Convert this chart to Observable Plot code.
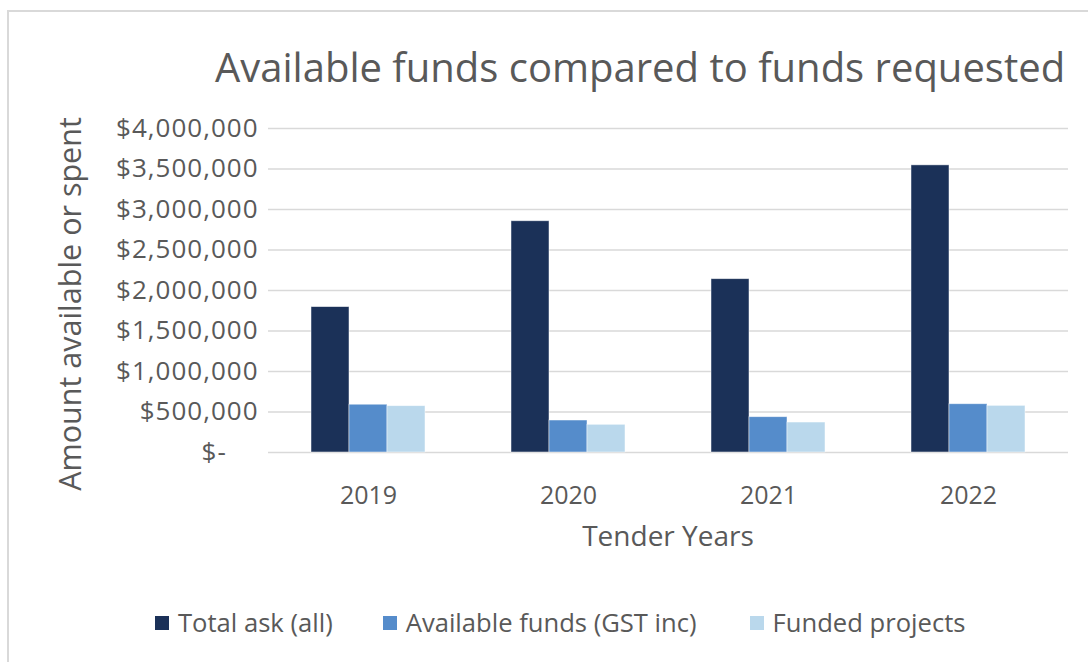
<!DOCTYPE html>
<html>
<head>
<meta charset="utf-8">
<script src="https://cdn.jsdelivr.net/npm/d3@7"></script>
<script src="https://cdn.jsdelivr.net/npm/@observablehq/plot@0.6"></script>
<style>
  html, body { margin: 0; padding: 0; background: #fff; }
  body { width: 1088px; height: 662px; position: relative; overflow: hidden; font-family: "Open Sans", "Noto Sans", sans-serif; color: #595959; }
  #frame { position: absolute; left: 7px; top: 10px; width: 1200px; height: 800px; border-left: 2px solid #d9d9d9; border-top: 2px solid #d9d9d9; }
  #title { position: absolute; left: 215px; top: 47px; font-size: 40px; line-height: 1; white-space: nowrap; letter-spacing: 0px; }
  #ylabel { position: absolute; left: 69px; top: 304px; font-size: 30.5px; white-space: nowrap; transform: translate(-50%, -50%) rotate(-90deg); }
  #xlabel { position: absolute; left: 668px; top: 521px; font-size: 28px; line-height: 1; white-space: nowrap; transform: translateX(-50%); }
  #chart { position: absolute; left: 0; top: 100px; }
  #chart g[aria-label^="y-axis"] text { font-size: 26px; letter-spacing: 1px; }
  #legend { position: absolute; left: 155px; top: 605px; display: flex; align-items: center; font-size: 25.6px; white-space: nowrap; }
  .item { display: flex; align-items: center; }
  .sw { width: 14px; height: 14px; margin-right: 9px; }
</style>
</head>
<body>
<div id="frame"></div>
<div id="title">Available funds compared to funds requested</div>
<div id="ylabel">Amount available or spent</div>
<div id="chart"></div>
<div id="xlabel">Tender Years</div>
<div id="legend"></div>
<script>
const years = ["2019", "2020", "2021", "2022"];
const series = ["Total ask (all)", "Available funds (GST inc)", "Funded projects"];
const totalAsk = [1795000, 2855000, 2140000, 3545000];
const availableFunds = [590000, 395000, 436000, 596000];
const fundedProjects = [572000, 342000, 370000, 576000];
const yTicks = [0, 500000, 1000000, 1500000, 2000000, 2500000, 3000000, 3500000, 4000000];
const colors = ["#1b3158", "#558ccb", "#bad8ec"];

const values = [totalAsk, availableFunds, fundedProjects];
const rows = years.flatMap((yr, i) => series.map((s, j) => ({year: yr, series: s, value: values[j][i]})));

const money = d3.format("$,");
const chart = Plot.plot({
  width: 1088,
  height: 460,
  marginLeft: 268,
  marginRight: 20,
  marginTop: 28,
  marginBottom: 108,
  style: {fontFamily: "'Open Sans', 'Noto Sans', sans-serif", fontSize: "25px", color: "#595959", background: "transparent"},
  fx: {domain: years, padding: 0, axis: "bottom", tickSize: 0, tickPadding: 34, label: null},
  x: {domain: series, axis: null, paddingInner: 0, paddingOuter: 1.086},
  y: {domain: [0, 4000000], ticks: yTicks, tickSize: 0, tickPadding: 10, label: null,
      tickFormat: d => d === 0 ? "$-\u2007\u2007" : money(d)},
  color: {domain: series, range: colors},
  marks: [
    Plot.ruleY(yTicks, {stroke: "#d9d9d9", strokeWidth: 1.5}),
    Plot.barY(rows, {fx: "year", x: "series", y: "value", fill: "series", stroke: "#ffffff", strokeWidth: 0.8, strokeOpacity: 0.6})
  ]
});
document.getElementById("chart").appendChild(chart);

const legend = document.getElementById("legend");
const gaps = [50, 53, 0];
series.forEach((s, j) => {
  const item = document.createElement("div");
  item.className = "item";
  item.style.marginRight = gaps[j] + "px";
  const sw = document.createElement("span");
  sw.className = "sw";
  sw.style.background = colors[j];
  const t = document.createElement("span");
  t.textContent = s;
  item.appendChild(sw);
  item.appendChild(t);
  legend.appendChild(item);
});
</script>
</body>
</html>
